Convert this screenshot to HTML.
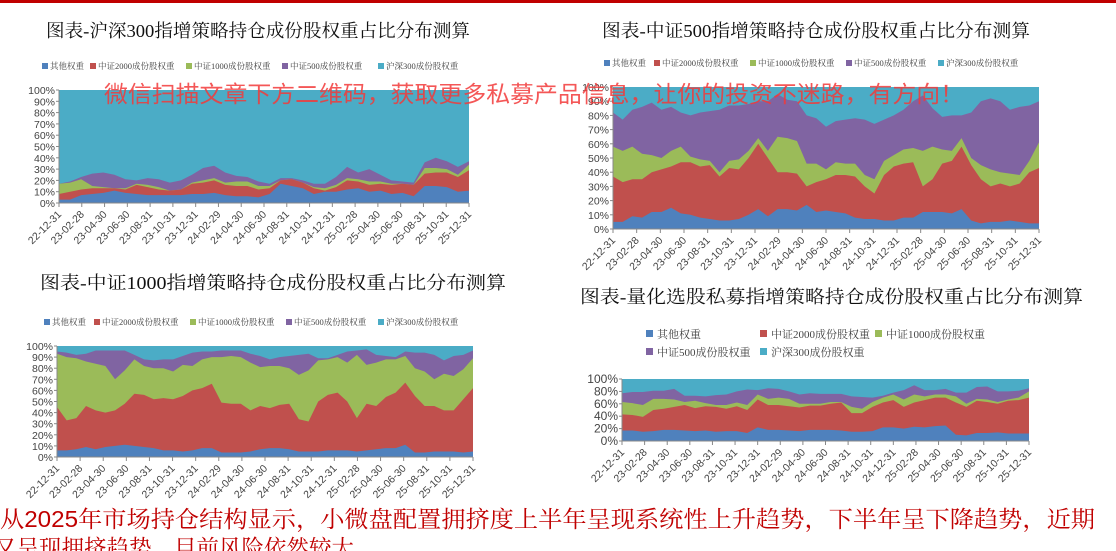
<!DOCTYPE html>
<html><head><meta charset="utf-8">
<style>
html,body{margin:0;padding:0;background:#fff;width:1116px;height:551px;overflow:hidden;}
svg{display:block}
</style></head>
<body>
<svg id="s" width="1116" height="551" xmlns="http://www.w3.org/2000/svg">
<rect x="0" y="0" width="1116" height="3" fill="#c00000"/>
</svg>
<script>
const S=document.getElementById('s');const NS='http://www.w3.org/2000/svg';
function el(t,a,txt){const e=document.createElementNS(NS,t);for(const k in a)e.setAttribute(k,a[k]);if(txt!==undefined)e.textContent=txt;S.appendChild(e);return e;}
const C=['#4f81bd','#c0504d','#9bbb59','#8064a2','#4bacc6'];
const LAB=['22-12-31','23-02-28','23-04-30','23-06-30','23-08-31','23-10-31','23-12-31','24-02-29','24-04-30','24-06-30','24-08-31','24-10-31','24-12-31','25-02-28','25-04-30','25-06-30','25-08-31','25-10-31','25-12-31'];
const LEG=['其他权重','中证2000成份股权重','中证1000成份股权重','中证500成份股权重','沪深300成份股权重'];
function chart(o){
 const {x0,x1,y0,y1,data,step}=o;const n=data.length;
 const X=i=>x0+(x1-x0)*i/(n-1);const Y=v=>y0-(y0-y1)*v/100;
 el('rect',{x:x0,y:y1,width:x1-x0,height:y0-y1,fill:C[4]});
 for(let k=3;k>=0;k--){let p=[];for(let i=0;i<n;i++)p.push(X(i)+','+Y(data[i][k]));p.push(x1+','+y0);p.push(x0+','+y0);el('polygon',{points:p.join(' '),fill:C[k]});}
 el('line',{x1:x0,y1:y1,x2:x0,y2:y0,stroke:'#888','stroke-width':1});
 el('line',{x1:x0,y1:y0,x2:x1,y2:y0,stroke:'#888','stroke-width':1});
 for(let v=0;v<=100;v+=step){const y=Y(v);el('line',{x1:x0-3,y1:y,x2:x0,y2:y,stroke:'#888'});
  el('text',{x:x0-4,y:y+4,'text-anchor':'end','font-size':o.fs||10.5,fill:'#444','font-family':'Liberation Sans,sans-serif'},v+'%');}
 for(let j=0;j<19;j++){const x=x0+(x1-x0)*j/18;el('line',{x1:x,y1:y0,x2:x,y2:y0+4,stroke:'#888'});
  el('text',{x:x+3,y:y0+12,'text-anchor':'end','font-size':10.5,fill:'#444','font-family':'Liberation Sans,sans-serif',transform:`rotate(-45 ${x+3} ${y0+12})`},LAB[j]);}
}
function title(x,y,w,t,fs){el('text',{x:x,y:y,'font-size':fs,textLength:w,lengthAdjust:'spacingAndGlyphs',fill:'#111','font-family':'Liberation Serif,Noto Serif CJK SC,serif'},t);}
function legend(x,y,ws,fs){let cx=x;for(let k=0;k<5;k++){el('rect',{x:cx,y:y-6,width:6,height:6,fill:C[k]});el('text',{x:cx+8,y:y,'font-size':fs,fill:'#444','font-family':'Liberation Serif,Noto Serif CJK SC,serif'},LEG[k]);cx+=ws[k];}}
// chart1
title(46,37,424,'图表-沪深300指增策略持仓成份股权重占比分布测算',18);
legend(42,69,[48,96,96,96,96],8.5);
chart({x0:59,x1:469,y0:203,y1:90,step:10,data:[[3,8,17,17],[3,10,18,19],[7,12,21,23],[8,13,15,26],[9,13,14,27],[11,13,13,25],[9,12,13,21],[8,16,17,20],[7,14,16,22],[7,12,14,21],[7,11,11,18],[7,12,12,20],[8,17,18,25],[8,18,20,31],[9,20,22,33],[7,16,18,27],[6,15,19,24],[6,15,19,23],[5,12,15,19],[8,13,15,17],[17,20,20,22],[15,21,21,22],[13,18,18,20],[8,13,14,17],[10,11,13,17],[10,14,16,23],[12,20,22,32],[13,19,21,27],[10,16,19,30],[11,17,19,25],[8,16,17,20],[9,17,17,19],[6,16,16,18],[15,26,31,36],[15,27,31,40],[14,27,30,37],[10,23,25,32],[11,29,34,37]]});
// chart2
title(602,37,428,'图表-中证500指增策略持仓成份股权重占比分布测算',18);
legend(604,66,[50,96,96,92,96],8.5);
chart({x0:613,x1:1039,y0:229,y1:87,step:10,data:[[5,37,58,82],[5,33,55,77],[9,35,58,84],[8,35,53,86],[12,40,52,89],[12,42,50,84],[15,44,55,86],[11,47,58,82],[10,47,51,80],[8,44,49,82],[7,45,48,83],[6,37,40,84],[6,43,48,87],[7,42,49,87],[10,50,55,88],[14,60,64,90],[9,50,55,90],[14,40,65,95],[14,40,64,91],[13,39,62,90],[17,30,46,80],[12,33,46,78],[13,35,42,72],[12,38,47,76],[11,38,46,77],[8,37,46,78],[7,30,38,77],[7,25,35,74],[6,38,48,77],[6,44,52,80],[8,46,56,84],[8,47,57,90],[12,30,55,94],[12,35,58,85],[12,46,56,79],[11,48,55,80],[14,58,64,80],[6,45,50,82],[4,35,45,90],[5,30,42,92],[5,32,40,90],[6,30,39,84],[5,32,38,86],[4,40,48,87],[4,43,61,90]]});
// chart3
title(40,289,466,'图表-中证1000指增策略持仓成份股权重占比分布测算',18);
legend(44,325,[50,96,96,92,96],8.5);
chart({x0:57,x1:473,y0:457,y1:346,step:10,data:[[6,45,93,95],[6,33,90,94],[7,35,89,92],[9,46,86,93],[7,42,84,96],[9,40,82,96],[10,42,70,96],[11,48,78,96],[10,57,88,92],[9,56,82,88],[8,52,80,87],[6,53,80,88],[6,52,77,88],[5,55,83,91],[6,60,82,94],[8,62,88,95],[8,66,90,95],[4,49,90,96],[4,48,91,96],[4,48,90,96],[5,42,85,93],[7,46,81,91],[8,44,82,88],[8,47,82,90],[7,48,80,91],[5,34,74,92],[5,32,78,93],[5,50,87,89],[6,56,88,89],[6,58,90,92],[6,50,85,95],[5,35,92,96],[6,48,83,97],[7,46,85,92],[8,54,88,91],[8,58,88,90],[11,67,91,95],[4,55,80,94],[4,46,77,94],[5,46,70,92],[5,42,75,87],[5,42,73,91],[4,52,79,92],[5,62,89,96]]});
// chart4
title(580,303,503,'图表-量化选股私募指增策略持仓成份股权重占比分布测算',18);
(function(){const items=[[646,338,0],[760,338,1],[875,338,2],[646,356,3],[760,356,4]];for(const [x,y,k] of items){el('rect',{x:x,y:y-8,width:7,height:7,fill:C[k]});el('text',{x:x+11,y:y,'font-size':11,fill:'#444','font-family':'Liberation Serif,Noto Serif CJK SC,serif'},LEG[k]);}})();
chart({x0:622,x1:1029,y0:441,y1:379,step:20,fs:12,data:[[17,43,63,77],[17,42,61,79],[15,39,58,79],[16,50,68,81],[18,52,68,81],[18,55,67,84],[17,58,63,73],[16,53,65,73],[17,56,61,72],[15,55,58,74],[16,52,58,75],[16,56,62,80],[13,50,58,83],[22,67,75,82],[18,58,68,85],[18,58,70,84],[17,56,68,80],[16,54,60,75],[18,57,60,77],[18,57,60,76],[18,60,63,76],[17,62,63,76],[15,45,55,72],[15,45,52,71],[16,55,63,70],[22,62,70,73],[22,66,75,78],[20,55,67,82],[23,62,75,90],[22,66,72,82],[24,70,75,82],[25,70,75,84],[10,62,72,78],[9,55,60,78],[13,65,68,87],[13,63,67,88],[14,60,63,80],[12,65,67,80],[12,66,70,81],[12,70,80,85]]});
// watermark
el('text',{x:104,y:102,'font-size':23,textLength:860,lengthAdjust:'spacingAndGlyphs',fill:'#f23a3a','fill-opacity':0.85,'font-family':'Liberation Sans,Noto Sans CJK SC,sans-serif'},'微信扫描文章下方二维码，获取更多私募产品信息，让你的投资不迷路，有方向！');
// bottom text
el('text',{x:0,y:527,'font-size':23,textLength:1095,lengthAdjust:'spacingAndGlyphs',fill:'#c00000','font-family':'Liberation Sans,Noto Serif CJK SC,serif'},'从2025年市场持仓结构显示，小微盘配置拥挤度上半年呈现系统性上升趋势，下半年呈下降趋势，近期');
el('text',{x:-6,y:556,'font-size':23,textLength:360,lengthAdjust:'spacingAndGlyphs',fill:'#c00000','font-family':'Liberation Sans,Noto Serif CJK SC,serif'},'又呈现拥挤趋势，目前风险依然较大');
</script>
</body></html>
